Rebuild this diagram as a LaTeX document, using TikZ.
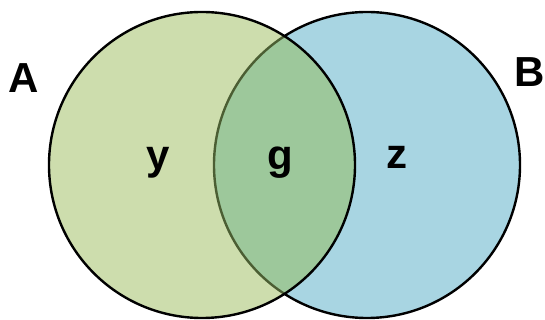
\documentclass[tikz,border=0pt]{standalone}
\usepackage{fontspec}
\setmainfont{Liberation Sans}
\definecolor{lgreen}{HTML}{CDDDAD}
\definecolor{lblue}{HTML}{A8D5E2}
\definecolor{mix}{HTML}{9DC89B}
\definecolor{olive}{HTML}{4B5E33}
\begin{document}
\begin{tikzpicture}[x=1pt,y=1pt,
  ring/.style={line width=2.4pt},
  lab/.style={font=\bfseries\fontsize{42}{42}\selectfont, anchor=base, inner sep=0pt}]
\useasboundingbox (0,0) rectangle (545,320);
\coordinate (ca) at (202,155);
\coordinate (cb) at (367,155);
% right circle
\fill[lblue] (cb) circle[radius=153];
\draw[ring] (cb) circle[radius=153];
% left circle
\fill[lgreen] (ca) circle[radius=153];
% intersection
\begin{scope}
  \clip (ca) circle[radius=153];
  \fill[mix] (cb) circle[radius=153];
  \draw[ring, olive] (cb) circle[radius=153];
\end{scope}
\draw[ring] (ca) circle[radius=153];
% labels
\node[lab] (A) at (23.5,227) {A};
\node[lab] (B) at (530,233) {B};
\node[lab] (y) at (158,150) {y};
\node[lab] (g) at (280,150) {g};
\node[lab] (z) at (397,151) {z};
\end{tikzpicture}
\end{document}
